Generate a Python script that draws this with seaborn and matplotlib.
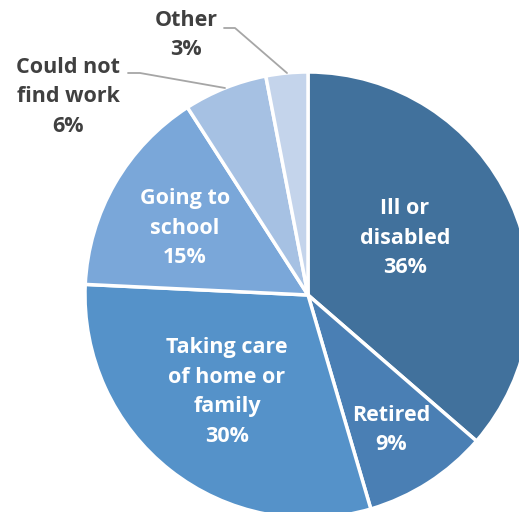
import matplotlib
matplotlib.use("Agg")
import matplotlib.pyplot as plt
import seaborn as sns

sns.set_style("white")
plt.rcParams['font.family'] = ['Open Sans', 'DejaVu Sans']

# Datos del gráfico
categorias = ['Ill or\ndisabled', 'Retired', 'Taking care\nof home or\nfamily',
              'Going to\nschool', 'Could not\nfind work', 'Other']
porcentajes = [36, 9, 30, 15, 6, 3]
colores = ['#41719C', '#4A7FB4', '#5592C9', '#7AA7D9', '#A6C1E3', '#C4D4EB']

fig = plt.figure(figsize=(5.19, 5.12), dpi=100)
ax = fig.add_axes([0, 0, 1, 1])
ax.set_aspect('equal')
ax.axis('off')

wedges, _ = ax.pie(porcentajes, colors=colores, startangle=90, counterclock=False,
                   center=(308, 217), radius=223,
                   wedgeprops=dict(edgecolor='white', linewidth=2.5))
ax.set_xlim(0, 519)
ax.set_ylim(0, 512)

# Etiquetas dentro / fuera (posición en píxeles)
pos = [(405, 274, 'white'), (391, 82, 'white'), (227, 120, 'white'),
       (185, 284, 'white'), (68, 415, '#404040'), (186, 477, '#404040')]
for cat, pct, (x, y, c) in zip(categorias, porcentajes, pos):
    ax.text(x, y, f"{cat}\n{pct}%", ha='center', va='center', color=c,
            fontsize=15.5, fontweight='bold', linespacing=1.55)

# Líneas guía
ax.plot([224, 235, 287], [484, 484, 439], color='#A6A6A6', lw=1.3)
ax.plot([128, 140, 225], [439, 439, 424], color='#A6A6A6', lw=1.3)

plt.savefig('out.png', dpi=100)
